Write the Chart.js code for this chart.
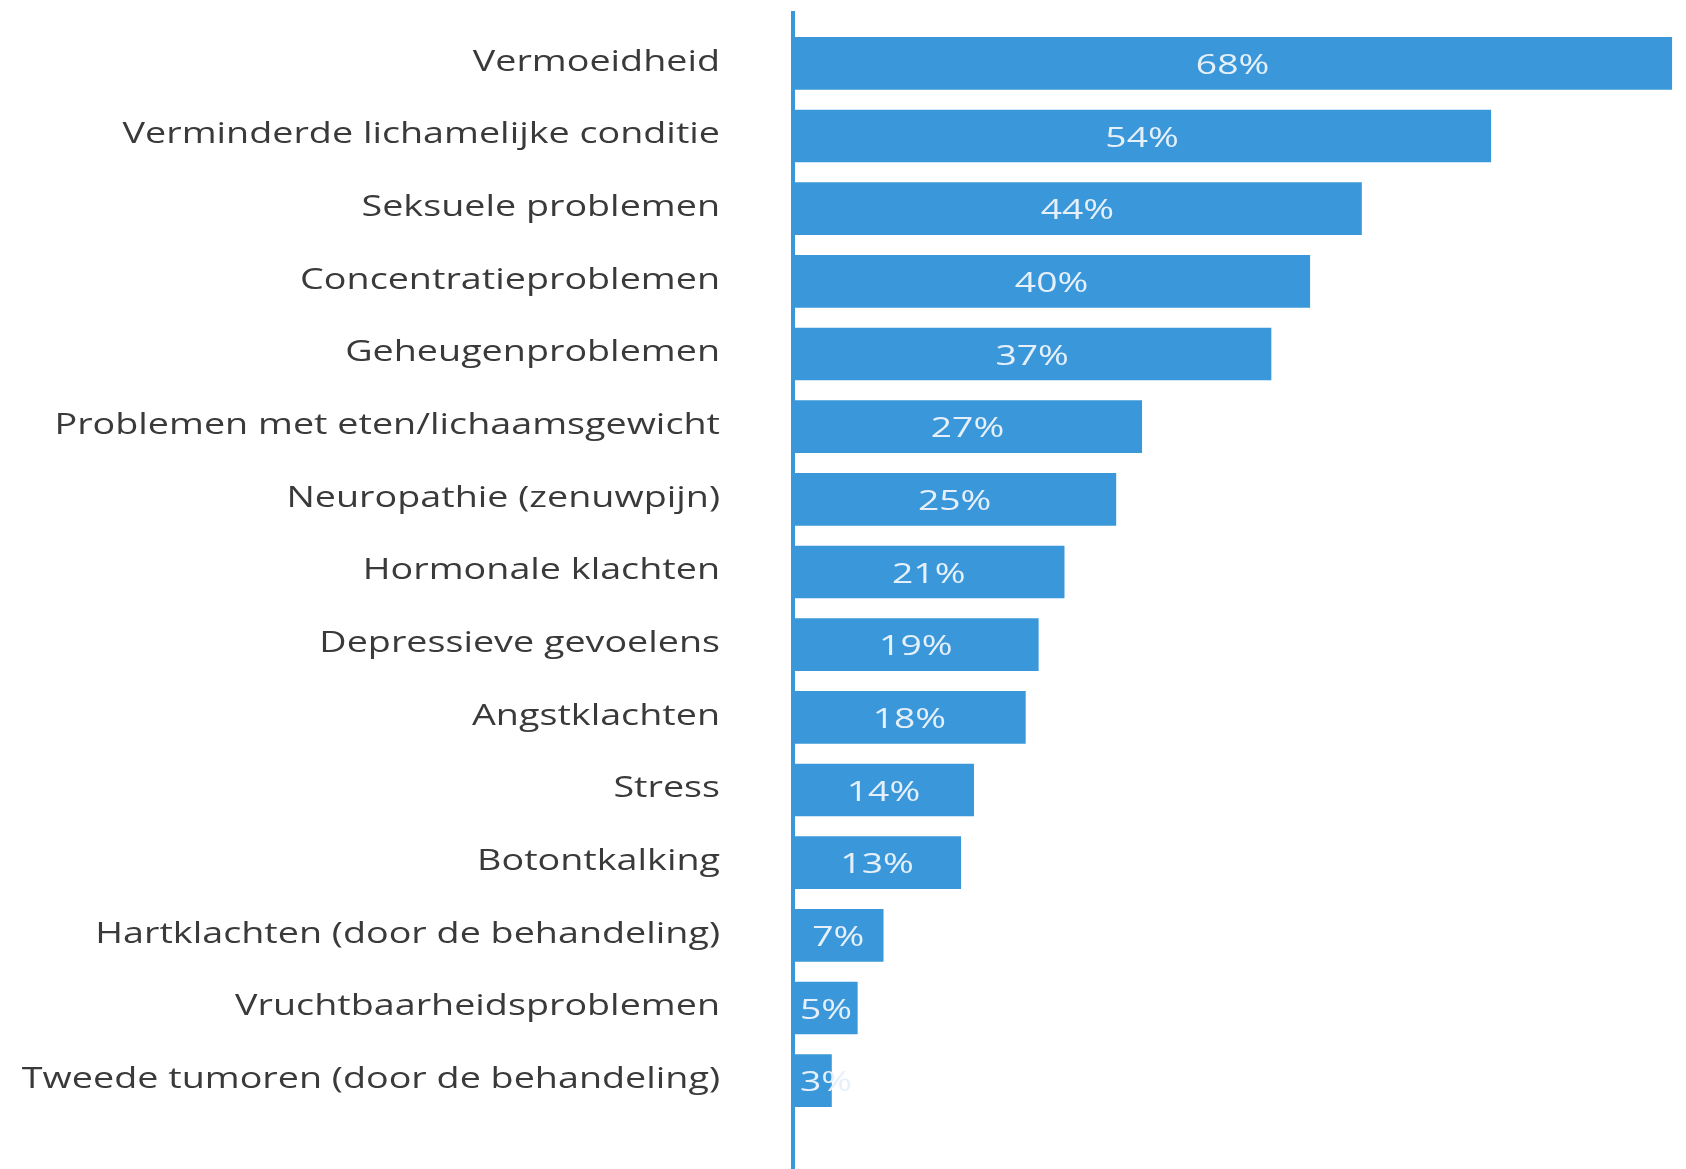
<!DOCTYPE html>
<html>
<head>
<meta charset="utf-8">
<script src="https://cdn.jsdelivr.net/npm/chart.js@4.4.1/dist/chart.umd.min.js"></script>
<style>
  html, body { margin: 0; padding: 0; background: #ffffff; }
  #wrap { width: 1686px; height: 1169px; }
</style>
</head>
<body>
<div id="wrap"><canvas id="c" width="1686" height="1169"></canvas></div>
<script>
const categories = [
  "Vermoeidheid",
  "Verminderde lichamelijke conditie",
  "Seksuele problemen",
  "Concentratieproblemen",
  "Geheugenproblemen",
  "Problemen met eten/lichaamsgewicht",
  "Neuropathie (zenuwpijn)",
  "Hormonale klachten",
  "Depressieve gevoelens",
  "Angstklachten",
  "Stress",
  "Botontkalking",
  "Hartklachten (door de behandeling)",
  "Vruchtbaarheidsproblemen",
  "Tweede tumoren (door de behandeling)"
];
const percentages = [68, 54, 44, 40, 37, 27, 25, 21, 19, 18, 14, 13, 7, 5, 3];

const BLUE = '#3a97d9';
const LABEL_STRETCH = 1.30;
const VALUE_STRETCH = 1.38;

const valueLabels = {
  id: 'valueLabels',
  afterDatasetsDraw(chart) {
    const ctx = chart.ctx;
    const meta = chart.getDatasetMeta(0);
    ctx.save();
    ctx.font = '400 27px "Open Sans"';
    meta.data.forEach((el, i) => {
      const txt = percentages[i] + '%';
      const w = ctx.measureText(txt).width * VALUE_STRETCH;
      let cx = (el.x + el.base) / 2;
      const minLeft = el.base + 7;
      if (cx - w / 2 < minLeft) cx = minLeft + w / 2;
      ctx.save();
      ctx.translate(cx, el.y);
      ctx.scale(VALUE_STRETCH, 1);
      ctx.fillStyle = '#e6f0fa';
      ctx.textAlign = 'center';
      ctx.textBaseline = 'middle';
      ctx.fillText(txt, 0, 3);
      ctx.restore();
    });
    ctx.restore();
  }
};

const axisLine = {
  id: 'axisLine',
  afterDatasetsDraw(chart) {
    const ctx = chart.ctx;
    const x = chart.scales.x.getPixelForValue(0);
    ctx.save();
    ctx.strokeStyle = BLUE;
    ctx.lineWidth = 4;
    ctx.beginPath();
    ctx.moveTo(x, 11);
    ctx.lineTo(x, chart.height);
    ctx.stroke();
    ctx.restore();
  }
};

// stretch the category labels horizontally (anchored at their right edge)
const stretchLabels = {
  id: 'stretchLabels',
  beforeDraw(chart) {
    const s = chart.scales.y;
    if (!s || s._stretched) return;
    const orig = s.drawLabels;
    s.drawLabels = function (area) {
      const ctx = this.ctx;
      const anchor = this.right - this.options.ticks.padding;
      ctx.save();
      ctx.translate(anchor, -1);
      ctx.scale(LABEL_STRETCH, 1);
      ctx.translate(-anchor, 0);
      orig.call(this, area);
      ctx.restore();
    };
    s._stretched = true;
  }
};

new Chart(document.getElementById('c'), {
  type: 'bar',
  data: {
    labels: categories,
    datasets: [{
      data: percentages,
      backgroundColor: BLUE,
      borderWidth: 0,
      categoryPercentage: 1,
      barPercentage: 0.725
    }]
  },
  options: {
    indexAxis: 'y',
    responsive: false,
    animation: false,
    devicePixelRatio: 1,
    layout: { padding: { top: 27, bottom: 52, left: 0, right: 1 } },
    plugins: { legend: { display: false }, tooltip: { enabled: false }, title: { display: false } },
    scales: {
      x: { display: false, min: 0, max: 69 },
      y: {
        grid: { display: false, drawTicks: false },
        border: { display: false },
        ticks: {
          color: '#3a3a3a',
          padding: 73,
          font: { family: '"Open Sans"', size: 29 }
        },
        afterFit(scale) {
          scale.width = 793;
          scale.paddingTop = 0;
          scale.paddingBottom = 0;
        }
      }
    }
  },
  plugins: [stretchLabels, axisLine, valueLabels]
});
</script>
</body>
</html>
